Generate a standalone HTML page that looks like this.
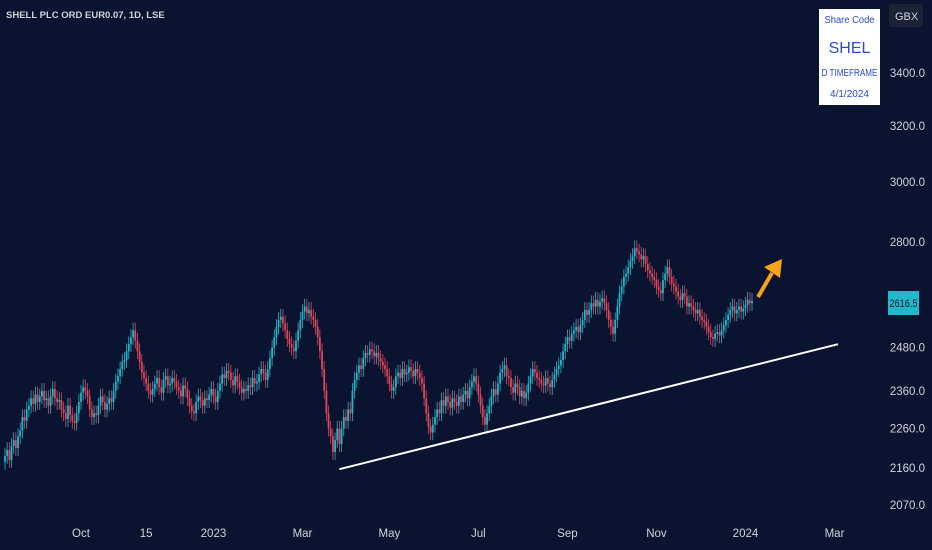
<!DOCTYPE html>
<html><head><meta charset="utf-8">
<style>
html,body{margin:0;padding:0;background:#0a1330;}
#wrap{position:relative;width:932px;height:550px;overflow:hidden;background:#0a1330;font-family:"Liberation Sans",sans-serif;}
svg{position:absolute;left:0;top:0;}
</style></head>
<body>
<div id="wrap">
<svg id="chart" width="932" height="550">
<text x="6" y="18" fill="#d1d4dc" font-size="9.5" font-weight="bold" font-family="Liberation Sans, sans-serif">SHELL PLC ORD EUR0.07, 1D, LSE</text>
<g id="candles"></g>
<g id="yaxis"></g>
<g id="xaxis"></g>
<line id="trend" stroke="#ffffff" stroke-width="2"/>
<g>
<line x1="758" y1="297" x2="772" y2="273" stroke="#f7a21b" stroke-width="4"/>
<polygon points="782,259 764,267 780,278" fill="#f7a21b"/>
</g>
<rect x="888" y="291" width="31" height="24" fill="#22b8cc"/>
<text id="lastTxt" x="903.5" y="307" fill="#0a1330" font-size="11" text-anchor="middle" textLength="28" lengthAdjust="spacingAndGlyphs">2616.5</text>
<rect x="819" y="9" width="61" height="96" fill="#ffffff"/>
<text x="849.5" y="23" fill="#2b4bd0" font-size="10" text-anchor="middle" textLength="50" lengthAdjust="spacingAndGlyphs">Share Code</text>
<text x="849.5" y="53" fill="#2b4bd0" font-size="16" text-anchor="middle">SHEL</text>
<text x="849.5" y="76" fill="#2b4bd0" font-size="10" text-anchor="middle" textLength="56" lengthAdjust="spacingAndGlyphs">D TIMEFRAME</text>
<text x="849.5" y="97" fill="#2b4bd0" font-size="10" text-anchor="middle">4/1/2024</text>
<rect x="889" y="4" width="34" height="23" rx="3" fill="#1a2236"/>
<text x="895" y="20" fill="#d1d4dc" font-size="11">GBX</text>
</svg>
</div>
<script>
const closes=[2190,2205,2180,2215,2230,2210,2240,
2255,2290,2280,2310,2320,
2340,2325,2350,2330,2345,
2360,2335,2340,2320,2345,2365,2340,2330,2335,
2310,2300,2285,2320,2295,2280,2275,
2300,2330,2355,2370,2360,
2345,2310,2290,2300,2295,
2320,2345,2330,2310,2325,2340,2330,
2360,2385,2400,2420,2440,
2445,2470,2490,2510,2530,
2500,2470,2440,2410,2395,
2380,2360,2350,2365,
2380,2395,2370,2355,2390,2400,2375,2380,2395,
2385,2370,2360,2345,2375,2365,2340,2320,2305,
2300,2330,2345,2335,2320,2340,2335,
2350,2365,2345,2330,2360,2380,2405,2395,2415,
2410,2390,2375,2400,2385,2370,2355,2365,2360,
2375,2370,2395,2380,2385,2405,2420,2410,2390,
2420,2450,2480,2510,2540,2560,2570,
2550,2530,2505,2490,2480,2470,2500,
2530,2560,2585,2600,2580,2590,2570,2560,
2540,2510,2470,2420,2360,2300,2260,2240,
2200,2230,2260,2220,2260,2290,2280,
2310,2300,2360,2390,2410,2430,2420,2450,2465,
2460,2475,2470,2455,2465,2450,2440,2430,2420,
2400,2380,2360,2370,2400,2410,2395,
2420,2405,2410,2425,2415,2400,2420,2410,2395,
2380,2340,2300,2265,2250,2270,2290,
2310,2300,2335,2320,2345,2330,2315,2340,2330,
2320,2345,2330,2350,2360,2340,2370,2385,2400,
2380,2350,2320,2290,2270,2300,2320,2345,
2365,2350,2380,2410,2420,2430,2400,2395,
2370,2355,2380,2370,2345,2360,2340,
2355,2380,2400,2420,2410,2395,2390,
2380,2375,2395,2380,2370,2390,2405,2420,2430,
2445,2470,2490,2510,2500,2520,2530,2540,2525,
2545,2560,2590,2575,2590,2610,2600,2620,2600,
2615,2625,2610,2590,2560,2540,2520,2560,
2600,2640,2660,2690,2700,2720,
2740,2755,2780,2770,2760,2745,2755,
2730,2710,2700,2690,2680,2660,2650,
2640,2680,2700,2720,2690,2670,2660,
2645,2630,2620,2640,2630,2600,2610,
2600,2590,2580,2590,2570,2560,2555,
2540,2525,2510,2505,2520,2525,
2515,2530,2545,2560,2575,2590,2600,2580,
2590,2600,2585,2595,2605,2620,2610,2616.5];
const firstOpen=2175;
const yTicks=[3400,3200,3000,2800,2480,2360,2260,2160,2070];
const xTickLabels=["Oct","15","2023","Mar","May","Jul","Sep","Nov","2024","Mar"];
const xTickIndex=[35,65,96,137,177,218,259,300,341,382];
const trendPrices=[2157,2490];
const trendIndex=[154,383.6];

const NS="http://www.w3.org/2000/svg";
function yScale(p){return 73-870.6*Math.log(p/3400);}
function xScale(i){return 5+i*2.1715;}

const cg=document.getElementById('candles');
let prev=firstOpen;
closes.forEach((c,i)=>{
  const o=prev;prev=c;
  const up=c>=o;
  const col=up?'#26b5c8':'#e0485a';
  const hi=Math.max(o,c)*1.009, lo=Math.min(o,c)*0.991;
  const x=xScale(i);
  const w=document.createElementNS(NS,'line');
  w.setAttribute('x1',x);w.setAttribute('x2',x);
  w.setAttribute('y1',yScale(hi));w.setAttribute('y2',yScale(lo));
  w.setAttribute('stroke',col);w.setAttribute('stroke-width','0.8');
  
  
  cg.appendChild(w);
  const r=document.createElementNS(NS,'rect');
  const y1=yScale(Math.max(o,c)),y2=yScale(Math.min(o,c));
  r.setAttribute('x',x-0.9);r.setAttribute('width',1.8);
  r.setAttribute('y',y1);r.setAttribute('height',Math.max(1.5,y2-y1));
  r.setAttribute('fill',col);
  
  
  cg.appendChild(r);
});

const ya=document.getElementById('yaxis');
yTicks.forEach(v=>{
  const t=document.createElementNS(NS,'text');
  t.setAttribute('x',925);t.setAttribute('y',yScale(v)+4);
  t.setAttribute('text-anchor','end');t.setAttribute('fill','#d1d4dc');t.setAttribute('font-size','11.5');
  t.textContent=v.toFixed(1);
  
  
  ya.appendChild(t);
});
const xa=document.getElementById('xaxis');
xTickLabels.forEach((lab,k)=>{
  const t=document.createElementNS(NS,'text');
  t.setAttribute('x',xScale(xTickIndex[k]));t.setAttribute('y',537);
  t.setAttribute('text-anchor','middle');t.setAttribute('fill','#d1d4dc');t.setAttribute('font-size','11.5');
  t.textContent=lab;
  
  
  xa.appendChild(t);
});
const tl=document.getElementById('trend');
tl.setAttribute('x1',xScale(trendIndex[0]));tl.setAttribute('y1',yScale(trendPrices[0]));
tl.setAttribute('x2',xScale(trendIndex[1]));tl.setAttribute('y2',yScale(trendPrices[1]));
const last=closes[closes.length-1];
document.getElementById('lastTxt').textContent=last.toFixed(1);
</script>
</body></html>
